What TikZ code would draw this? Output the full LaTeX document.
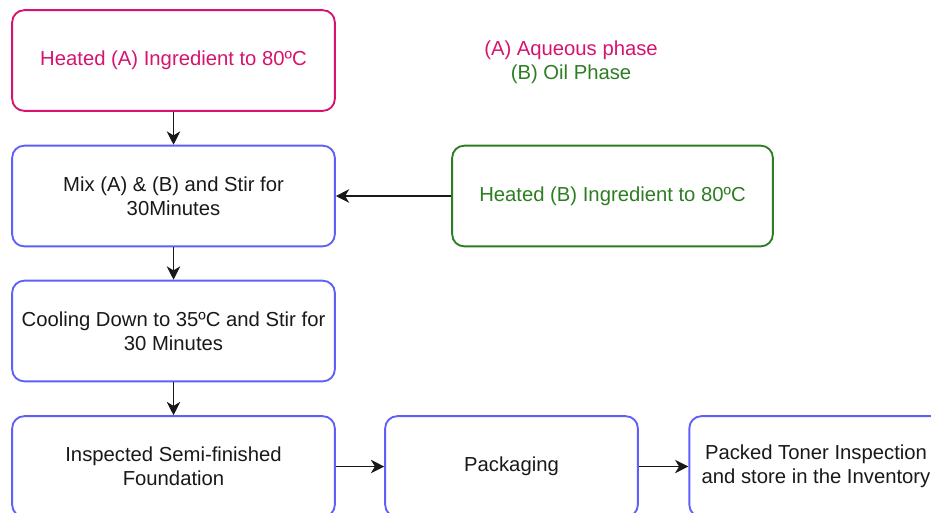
\documentclass[tikz,border=0pt]{standalone}
\usepackage{fontspec}
\setmainfont{Liberation Sans}
\usetikzlibrary{arrows.meta,positioning}
\definecolor{rose}{RGB}{214,20,112}
\definecolor{moss}{RGB}{45,125,35}
\definecolor{cobalt}{RGB}{95,95,250}
\definecolor{ink}{RGB}{25,25,25}
\tikzset{
  >={Stealth[length=10pt,width=10pt,inset=3pt]},
  stage/.style={draw=#1,fill=white,rounded corners=9pt,line width=1.4pt,
    minimum height=75.5pt,minimum width=242pt,align=center,
    font=\fontsize{15.2}{18}\selectfont,text=ink},
  stage/.default=cobalt,
  flow/.style={->,line width=1.4pt,draw=ink},
  tag/.style={font=\fontsize{15.2}{18}\selectfont,align=center},
}
\begin{document}
\begin{tikzpicture}[x=0.75pt,y=-0.75pt]
    \useasboundingbox (0,0) rectangle (931,512);
    \clip (0,0) rectangle (931,512);
    % main column
    \node[stage=rose,text=rose] (heatA) at (173.5,60.5) {Heated (A) Ingredient to 80ºC};
    \node[stage] (mix) at (173.5,196) {Mix (A) \& (B) and Stir for\\30Minutes};
    \node[stage] (cool) at (173.5,331) {Cooling Down to 35ºC and Stir for\\30 Minutes};
    \node[stage] (semi) at (173.5,466.5) {Inspected Semi-finished\\Foundation};
    % side boxes
    \node[stage=moss,text=moss,minimum width=240.5pt] (heatB) at (612.5,196) {Heated (B) Ingredient to 80ºC};
    \node[stage,minimum width=189.5pt] (pack) at (511.5,466.5) {Packaging};
    \node[stage,minimum width=190pt] (store) at (816,466.5) {Packed Toner Inspection\\and store in the Inventory};
    % legend
    \node[tag,text=rose] (legA) at (571,50) {(A) Aqueous phase};
    \node[tag,text=moss] (legB) at (571,74) {(B) Oil Phase};
    % arrows
    \draw[flow] (heatA) -- (mix);
    \draw[flow] (heatB) -- (mix);
    \draw[flow] (mix) -- (cool);
    \draw[flow] (cool) -- (semi);
    \draw[flow] (semi) -- (pack);
    \draw[flow] (pack) -- (store);
  \end{tikzpicture}
\end{document}
